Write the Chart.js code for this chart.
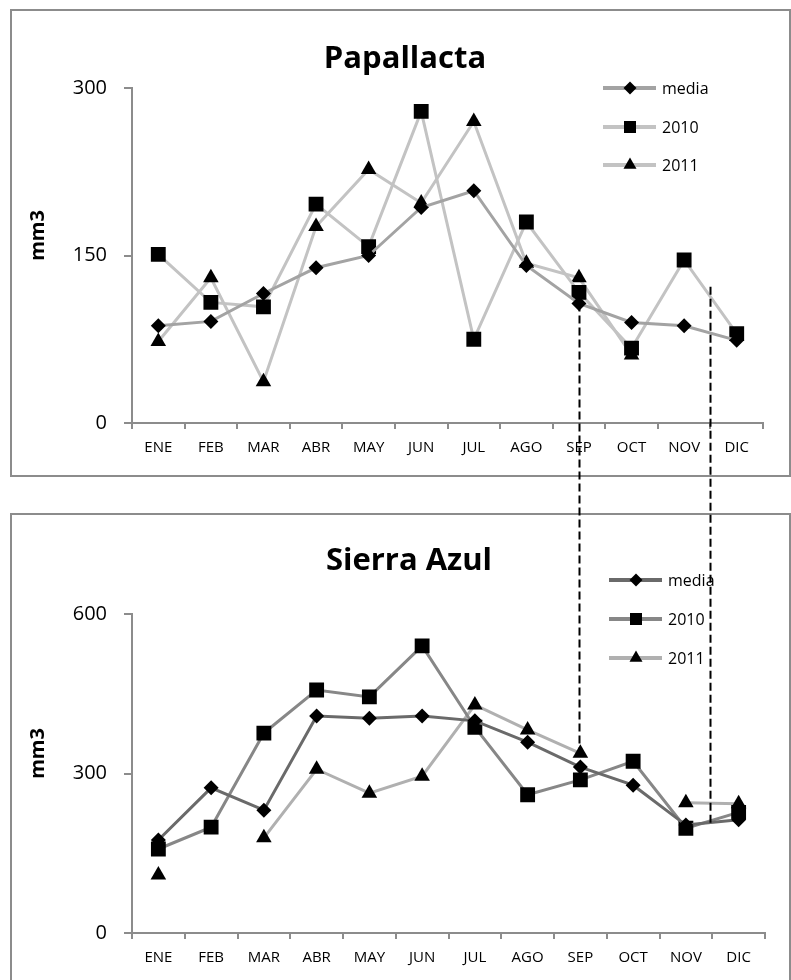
<!DOCTYPE html>
<html>
<head>
<meta charset="utf-8">
<script src="https://cdn.jsdelivr.net/npm/chart.js@4/dist/chart.umd.min.js"></script>
<style>
  body { margin: 0; background: #fff; width: 791px; height: 980px; overflow: hidden; position: relative; }
  .frame { position: absolute; border: 2px solid #8c8c8c; box-sizing: border-box; }
  canvas { position: absolute; left: 0; }
</style>
</head>
<body>
<div class="frame" style="left:10px;top:9px;width:781px;height:468px"></div>
<div class="frame" style="left:10px;top:513px;width:781px;height:500px"></div>
<canvas id="pap" width="791" height="490" style="top:0"></canvas>
<canvas id="sierra" width="791" height="490" style="top:490px"></canvas>
<canvas id="guides" width="791" height="980" style="top:0"></canvas>
<script>
// data
const months = ["ENE", "FEB", "MAR", "ABR", "MAY", "JUN", "JUL", "AGO", "SEP", "OCT", "NOV", "DIC"];
const seriesNames = ["media", "2010", "2011"];

const papMedia = [87, 91, 116, 139, 150, 193, 208, 141, 107, 90, 87, 74];
const pap2010 = [151, 108, 104, 196, 158, 279, 75, 180, 117, 67, 146, 80];
const pap2011 = [73, 130, 37, 176, 227, 197, 270, 143, 130, 61, null, null];
const papTicks = [0, 150, 300];

const sierraMedia = [175, 273, 231, 408, 404, 408, 399, 359, 312, 278, 203, 213];
const sierra2010 = [158, 199, 376, 457, 444, 540, 387, 260, 288, 323, 197, 227];
const sierra2011 = [109, null, 179, 308, 263, 295, 429, 382, 338, null, 245, 243];
const sierraTicks = [0, 300, 600];

// dashed guides: category slot, value in top chart, value in bottom chart
const guideSlots = [8, 10.5];
const guideTop = [107, 122];
const guideBottom = [340, 201];

Chart.defaults.font.family = "'Open Sans', sans-serif";

const pointStyles = ["rectRot", "rect", "triangle"];
const pointRadii = [7.5, 10.5, 9];
const legendRadii = [6.5, 8.5, 7.5];

function marker(ctx, style, r, x, y) {
  ctx.beginPath();
  if (style === "rectRot") {
    ctx.moveTo(x - r, y); ctx.lineTo(x, y - r); ctx.lineTo(x + r, y); ctx.lineTo(x, y + r);
  } else if (style === "rect") {
    const s = r * Math.SQRT1_2;
    ctx.rect(x - s, y - s, 2 * s, 2 * s);
  } else {
    const w = r * Math.sqrt(3) / 2;
    ctx.moveTo(x, y - r); ctx.lineTo(x + w, y + r / 2); ctx.lineTo(x - w, y + r / 2);
  }
  ctx.closePath();
  ctx.fillStyle = "#000";
  ctx.fill();
}

const deco = {
  id: "deco",
  afterDraw(chart, args, o) {
    const ctx = chart.ctx;
    const area = chart.chartArea;
    ctx.save();
    ctx.fillStyle = "#000";
    ctx.font = "bold 31px 'Open Sans'";
    ctx.textAlign = "center";
    ctx.textBaseline = "alphabetic";
    ctx.fillText(o.title, o.titleX, o.titleY);

    ctx.save();
    ctx.translate(38, (area.top + area.bottom) / 2 - 20);
    ctx.rotate(-Math.PI / 2);
    ctx.font = "bold 20px 'Open Sans'";
    ctx.textBaseline = "middle";
    ctx.fillText("mm3", 0, 0);
    ctx.restore();

    ctx.font = "16px 'Open Sans'";
    ctx.textAlign = "left";
    ctx.textBaseline = "middle";
    chart.data.datasets.forEach((ds, i) => {
      const y = o.legendY[i];
      ctx.strokeStyle = ds.borderColor;
      ctx.lineWidth = 4;
      ctx.beginPath();
      ctx.moveTo(o.legendX, y);
      ctx.lineTo(o.legendX + 53, y);
      ctx.stroke();
      marker(ctx, ds.pointStyle, legendRadii[i], o.legendX + 27, y);
      ctx.fillStyle = "#000";
      ctx.fillText(ds.label, o.legendX + 59, y + 1);
    });
    ctx.restore();
  }
};

function buildChart(id, series, colors, ticks, pad, decoOpts) {
  const axisColor = "#8c8c8c";
  return new Chart(document.getElementById(id), {
    type: "line",
    data: {
      labels: months,
      datasets: series.map((s, i) => ({
        label: seriesNames[i],
        data: s,
        borderColor: colors[i],
        backgroundColor: "#000",
        borderWidth: 3,
        tension: 0,
        spanGaps: false,
        pointStyle: pointStyles[i],
        pointRadius: pointRadii[i],
        pointBackgroundColor: "#000",
        pointBorderColor: "#000",
        pointBorderWidth: 0
      }))
    },
    options: {
      responsive: false,
      animation: false,
      events: [],
      layout: { padding: { top: pad.top, right: pad.right, bottom: pad.bottom, left: 0 } },
      plugins: {
        legend: { display: false },
        title: { display: false },
        tooltip: { enabled: false },
        deco: decoOpts
      },
      scales: {
        x: {
          offset: true,
          grid: { offset: true, drawOnChartArea: false, tickLength: 6, color: axisColor, lineWidth: 2 },
          border: { display: true, color: axisColor, width: 2 },
          ticks: { color: "#000", font: { size: 15 }, padding: 10, maxRotation: 0, autoSkip: false },
          afterFit: s => { s.height = 40; }
        },
        y: {
          min: ticks[0],
          max: ticks[ticks.length - 1],
          afterBuildTicks: s => { s.ticks = ticks.map(v => ({ value: v })); },
          grid: { drawOnChartArea: false, tickLength: 8, color: axisColor, lineWidth: 2 },
          border: { display: true, color: axisColor, width: 2 },
          ticks: { color: "#000", font: { size: 20 }, padding: 17 },
          afterFit: s => { s.width = 132; }
        }
      }
    },
    plugins: [deco]
  });
}

const pap = buildChart("pap", [papMedia, pap2010, pap2011],
  ["#a3a3a3", "#c3c3c3", "#c3c3c3"], papTicks,
  { top: 88, right: 28, bottom: 27 },
  { title: "Papallacta", titleX: 405, titleY: 68, legendX: 603, legendY: [88, 127, 165] });

const sierra = buildChart("sierra", [sierraMedia, sierra2010, sierra2011],
  ["#6a6a6a", "#878787", "#b0b0b0"], sierraTicks,
  { top: 124, right: 26, bottom: 7 },
  { title: "Sierra Azul", titleX: 409, titleY: 80, legendX: 609, legendY: [90, 129, 168] });

// dashed connectors across both charts
const g = document.getElementById("guides").getContext("2d");
const offset2 = 490;
g.strokeStyle = "#000";
g.lineWidth = 2;
g.setLineDash([8, 4]);
guideSlots.forEach((slot, i) => {
  const x = Math.round(pap.scales.x.getPixelForValue(slot)) + 0.5;
  const y1 = pap.scales.y.getPixelForValue(guideTop[i]);
  const y2 = offset2 + sierra.scales.y.getPixelForValue(guideBottom[i]);
  g.beginPath();
  g.moveTo(x, y1);
  g.lineTo(x, y2);
  g.stroke();
});
</script>
</body>
</html>
